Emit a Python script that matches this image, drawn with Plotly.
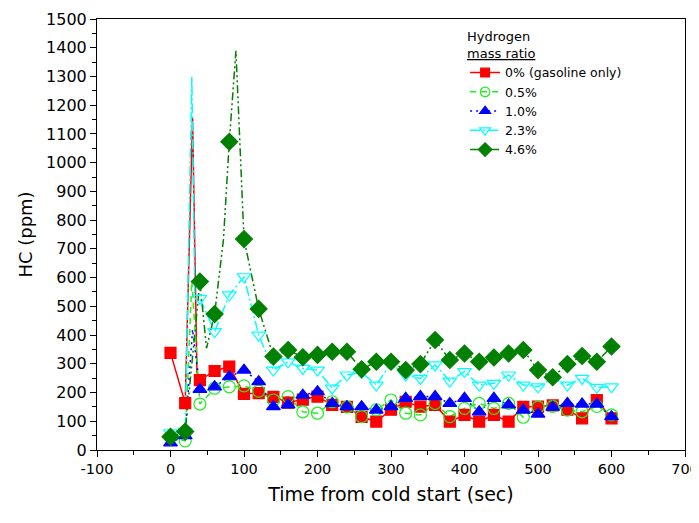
import plotly.graph_objects as go

# ---- data ----
t_marks = [0, 20, 40, 60, 80, 100, 120, 140, 160, 180, 200, 220, 240, 260, 280, 300,
           320, 340, 360, 380, 400, 420, 440, 460, 480, 500, 520, 540, 560, 580, 600]

hc_0 = [338, 163, 243, 275, 290, 195, 198, 185, 165, 175, 186, 157, 150, 115, 99, 140,
        168, 151, 157, 99, 122, 99, 122, 99, 150, 151, 155, 140, 110, 174, 110]
hc_05 = [45, 32, 160, 215, 220, 223, 205, 174, 186, 133, 128, 168, 150, 116, 140, 174,
         128, 122, 162, 116, 145, 162, 145, 162, 114, 149, 152, 139, 133, 152, 122]
hc_10 = [25, 50, 211, 220, 255, 278, 238, 151, 157, 191, 203, 162, 151, 151, 139, 151,
         180, 186, 186, 162, 180, 133, 180, 157, 139, 125, 149, 162, 160, 160, 116]
hc_23 = [60, 65, 528, 412, 540, 603, 400, 278, 307, 284, 278, 215, 261, 270, 226, 302,
         261, 249, 296, 240, 273, 226, 232, 261, 226, 220, 250, 226, 249, 218, 220]
hc_46 = [46, 64, 586, 473, 1073, 734, 491, 325, 348, 323, 331, 342, 342, 281, 307, 307,
         278, 299, 383, 313, 336, 307, 322, 336, 348, 278, 253, 299, 327, 307, 360]

# extra points of the continuous traces (transient peaks between markers)
peak_t_0, peak_v_0 = [30, 36], [1155, 270]
peak_t_05, peak_v_05 = [29], [590]
peak_t_10, peak_v_10 = [30], [420]
peak_t_23, peak_v_23 = [29, 33], [1299, 546]
peak_t_46, peak_v_46 = [49, 72, 89], [354, 731, 1389]

names = ["0% (gasoline only)", "0.5%", "1.0%", "2.3%", "4.6%"]

x_ticks = [-100, 0, 100, 200, 300, 400, 500, 600, 700]
y_ticks = list(range(0, 1501, 100))

series = [
    (names[0], hc_0, peak_t_0, peak_v_0, "#ff0000", "solid", "square", "#ff0000", 11),
    (names[1], hc_05, peak_t_05, peak_v_05, "#1ef01e", "6px,5px", "circle-open", "#1ef01e", 12),
    (names[2], hc_10, peak_t_10, peak_v_10, "#0000ff", "2px,4px", "triangle-up", "#0000ff", 12),
    (names[3], hc_23, peak_t_23, peak_v_23, "#00ffff", "10px,3px,2px,3px", "triangle-down-open", "#00ffff", 12),
    (names[4], hc_46, peak_t_46, peak_v_46, "#008000", "8px,3px,2px,3px,2px,3px", "diamond", "#008000", 13),
]

fig = go.Figure()
for name, vals, pt, pv, col, dash, sym, mcol, msize in series:
    pts = sorted(list(zip(t_marks, vals)) + list(zip(pt, pv)))
    fig.add_trace(go.Scatter(
        x=[p[0] for p in pts], y=[p[1] for p in pts], mode="lines",
        line=dict(color=col, width=1.5, dash=dash), showlegend=False,
        legendgroup=name, hoverinfo="skip"))
for name, vals, pt, pv, col, dash, sym, mcol, msize in series:
    fig.add_trace(go.Scatter(
        x=t_marks, y=vals, mode="markers", showlegend=False, legendgroup=name,
        marker=dict(symbol=sym, size=msize, color=mcol,
                    line=dict(color=mcol, width=1.2))))
for name, vals, pt, pv, col, dash, sym, mcol, msize in series:
    fig.add_trace(go.Scatter(
        x=[None], y=[None], mode="lines+markers", name=name, legendgroup=name,
        line=dict(color=col, width=1.5, dash=dash),
        marker=dict(symbol=sym, size=msize * 0.8, color=mcol,
                    line=dict(color=mcol, width=1.2))))

font_family = "DejaVu Sans"
fig.update_layout(
    width=691, height=500,
    margin=dict(l=89, r=14, t=11, b=58),
    paper_bgcolor="white", plot_bgcolor="white",
    font=dict(family=font_family, color="black", size=16),
    showlegend=True,
    legend=dict(
        x=0.626, y=0.988, xanchor="left", yanchor="top",
        bgcolor="rgba(0,0,0,0)", borderwidth=0,
        font=dict(family=font_family, size=12.5, color="black"),
        title=dict(text="Hydrogen<br><u>mass ratio</u>",
                   font=dict(family=font_family, size=13, color="black")),
        tracegroupgap=0,
    ),
    xaxis=dict(
        range=[-100, 700], tickvals=x_ticks, ticktext=[str(v) for v in x_ticks],
        showgrid=False, zeroline=False, showline=True, linecolor="black", linewidth=1,
        mirror=True, ticks="outside", ticklen=6, tickcolor="black",
        minor=dict(ticks="outside", ticklen=4, dtick=50, tickcolor="black"),
        tickfont=dict(size=14.5), automargin=False, ticklabeloverflow="allow",
        title=dict(text="Time from cold start (sec)", font=dict(size=19), standoff=11),
    ),
    yaxis=dict(
        range=[0, 1500], tickvals=y_ticks, ticktext=[str(v) for v in y_ticks],
        showgrid=False, zeroline=False, showline=True, linecolor="black", linewidth=1,
        mirror=True, ticks="outside", ticklen=6, tickcolor="black",
        minor=dict(ticks="outside", ticklen=4, dtick=50, tickcolor="black"),
        tickfont=dict(size=16), automargin=False, ticklabeloverflow="allow",
        title=dict(text="HC (ppm)", font=dict(size=18), standoff=8),
    ),
)

fig.write_html("out.html")
